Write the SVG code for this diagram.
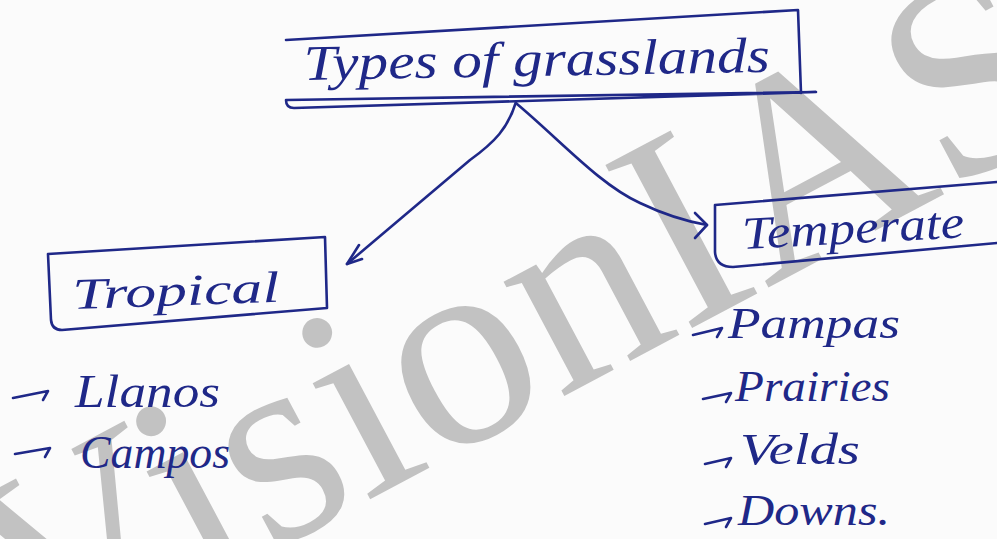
<svg xmlns="http://www.w3.org/2000/svg" width="997" height="539" viewBox="0 0 997 539">
<style>
.ink{fill:none;stroke:#1f2888;stroke-width:2.6;stroke-linecap:round;stroke-linejoin:round}
.hw{font-family:"Liberation Serif","Times New Roman",serif;font-style:italic;fill:#1f2888}
.wm{font-family:"Liberation Serif","Times New Roman",serif;fill:#c2c2c2}
</style>
<rect width="997" height="539" fill="#fbfbfb"/>
<g id="watermark">
<text class="wm" font-size="282" transform="translate(34,678) rotate(-28)">VisionIAS</text>
</g>
<g id="connectors">
<path class="ink" d="M516,102 C508,128 495,142 470,160 L347,264"/>
<path class="ink" d="M359,245 L347,264 L362,259"/>
<path class="ink" d="M517,104 C560,140 600,185 640,203 C665,215 690,222 707,225"/>
<path class="ink" d="M695,213 L707,225 L695,238"/>
</g>
<g id="node-types">
<path class="ink" d="M286,40 L798,10 L801,93 M816,92 L294,108 Q286,108 286,100 Z"/>
<text class="hw" font-size="50" x="304" y="80" textLength="466" lengthAdjust="spacingAndGlyphs" transform="rotate(-1 304 80)">Types of grasslands</text>
</g>
<g id="node-tropical">
<path class="ink" d="M48,254 L325,237 L327,308 L62,330 Q52,330 51,320 L48,254"/>
<text class="hw" font-size="44" x="73" y="309" textLength="207" lengthAdjust="spacingAndGlyphs" transform="rotate(-2 73 309)">Tropical</text>
</g>
<g id="node-temperate">
<path class="ink" d="M715,205 L997,182 M715,205 L715,252 Q716,267 733,267 L997,243"/>
<text class="hw" font-size="46" x="743" y="249" textLength="222" lengthAdjust="spacingAndGlyphs" transform="rotate(-3 743 249)">Temperate</text>
</g>
<g id="node-llanos">
<path class="ink" d="M13,398 L48,391 L43,400"/>
<text class="hw" font-size="46" x="75" y="407" textLength="145" lengthAdjust="spacingAndGlyphs">Llanos</text>
</g>
<g id="node-campos">
<path class="ink" d="M15,454 L50,448 L45,457"/>
<text class="hw" font-size="46" x="80" y="468" textLength="150" lengthAdjust="spacingAndGlyphs">Campos</text>
</g>
<g id="node-pampas">
<path class="ink" d="M693,335 L722,328 L717,337"/>
<text class="hw" font-size="44" x="728" y="338" textLength="172" lengthAdjust="spacingAndGlyphs">Pampas</text>
</g>
<g id="node-prairies">
<path class="ink" d="M703,399 L731,393 L726,402"/>
<text class="hw" font-size="44" x="735" y="401" textLength="155" lengthAdjust="spacingAndGlyphs">Prairies</text>
</g>
<g id="node-velds">
<path class="ink" d="M705,464 L731,458 L726,467"/>
<text class="hw" font-size="44" x="740" y="464" textLength="120" lengthAdjust="spacingAndGlyphs">Velds</text>
</g>
<g id="node-downs">
<path class="ink" d="M705,524 L731,518 L726,527"/>
<text class="hw" font-size="44" x="738" y="525" textLength="152" lengthAdjust="spacingAndGlyphs">Downs.</text>
</g>
</svg>
